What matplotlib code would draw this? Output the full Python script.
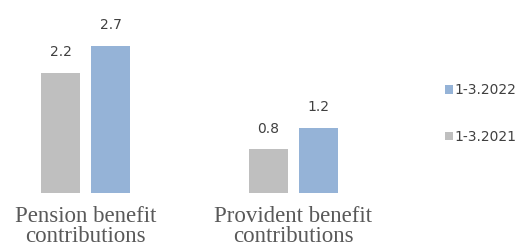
import numpy as np
import matplotlib.pyplot as plt

categories = ['Pension benefit\ncontributions', 'Provident benefit\ncontributions']
series_2021 = [2.2, 0.8]
series_2022 = [2.7, 1.2]
labels = ['1-3.2021', '1-3.2022']

GRAY = '#BFBFBF'
BLUE = '#95B3D7'

W, H = 517, 248
fig = plt.figure(figsize=(W / 100, H / 100), dpi=100)

# axes: baseline at y=193px, group spacing 208px
ax = fig.add_axes([0, 55 / H, 400 / W, 193 / H])
x = np.arange(len(categories))
bw = 39 / 208
off = 25 / 208
b1 = ax.bar(x - off, series_2021, bw, color=GRAY, label=labels[0])
b2 = ax.bar(x + off, series_2022, bw, color=BLUE, label=labels[1])

for bars in (b1, b2):
    for r in bars:
        ax.annotate(f'{r.get_height():.1f}', (r.get_x() + r.get_width() / 2, r.get_height()),
                    xytext=(0, 10), textcoords='offset points', ha='center', va='bottom',
                    fontsize=10, color='#404040', family='DejaVu Sans')

ax.set_xlim(-85.5 / 208, (400 - 85.5) / 208)
ax.set_ylim(0, 193 / 54.5)
ax.set_xticks(x)
ax.set_xticklabels(categories, family='Liberation Serif', fontsize=16.5, color='#595959',
                   linespacing=1.0)
ax.tick_params(length=0, pad=9)
ax.set_yticks([])
for s in ax.spines.values():
    s.set_visible(False)

fig.legend([b2, b1], [labels[1], labels[0]], loc='center left',
           bbox_to_anchor=(445 / W, 1 - 113.5 / H), frameon=False, fontsize=10,
           handlelength=0.6, handleheight=0.6, handletextpad=0.1, labelspacing=2.35,
           borderpad=0, borderaxespad=0, labelcolor='#404040')

fig.savefig('out.png', dpi=100)
